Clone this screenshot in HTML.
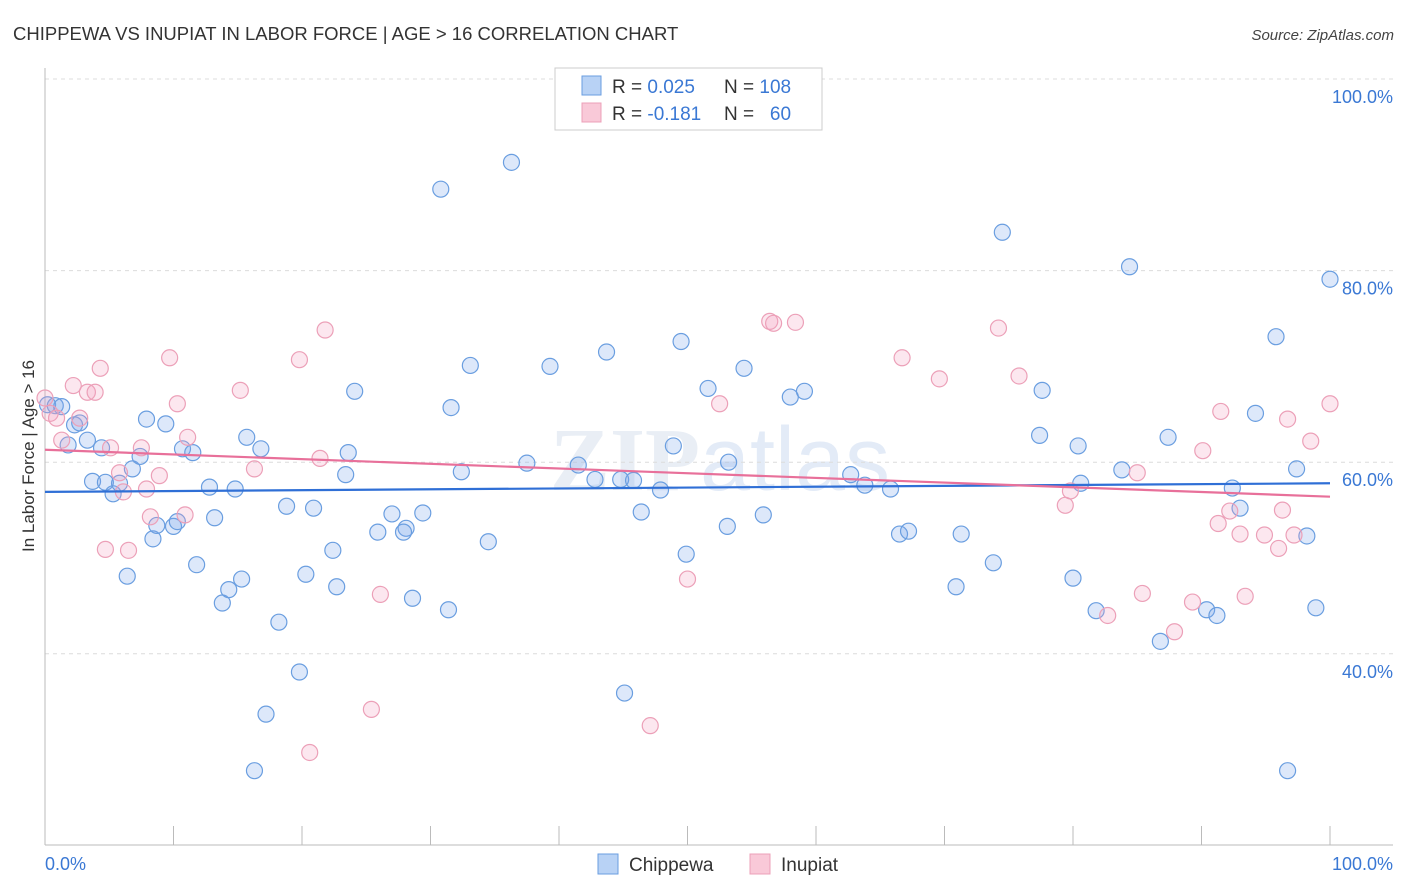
<!DOCTYPE html>
<html><head><meta charset="utf-8">
<style>
body{margin:0;background:#fff;font-family:"Liberation Sans",sans-serif;}
svg{display:block}
</style></head>
<body>
<svg id="chart" width="1406" height="892" xmlns="http://www.w3.org/2000/svg">
<text x="13" y="40" font-size="18.5" fill="#333" font-family="Liberation Sans, sans-serif">CHIPPEWA VS INUPIAT IN LABOR FORCE | AGE &gt; 16 CORRELATION CHART</text>
<text x="1394" y="40" font-size="15" fill="#444" text-anchor="end" font-style="italic">Source: ZipAtlas.com</text>
<text x="720" y="490" font-size="90" fill="#e9eef5" text-anchor="middle" font-weight="bold" font-family="Liberation Serif, serif">ZIP<tspan font-family="Liberation Sans, sans-serif" font-weight="normal" fill="#e3ebf7">atlas</tspan></text>
<g id="grid"></g>
<g id="axes"></g>
<g id="marks"></g>
<text transform="translate(34,456) rotate(-90)" font-size="17" fill="#333" text-anchor="middle">In Labor Force | Age &gt; 16</text>
<g>
<rect x="555" y="68" width="267" height="62" fill="#fff" stroke="#ccc"/>
<rect x="582" y="76" width="19" height="19" fill="#b8d2f5" stroke="#6a9ee0"/>
<rect x="582" y="103" width="19" height="19" fill="#f9c9d8" stroke="#eca0b8"/>
<text x="612" y="93" font-size="19" fill="#333">R = <tspan fill="#3a78d4">0.025</tspan></text>
<text x="724" y="93" font-size="19" fill="#333">N = <tspan fill="#3a78d4">108</tspan></text>
<text x="612" y="120" font-size="19" fill="#333">R = <tspan fill="#3a78d4">-0.181</tspan></text>
<text x="724" y="120" font-size="19" fill="#333">N = <tspan fill="#3a78d4">&#160;&#160;60</tspan></text>
</g>
<g>
<rect x="598" y="854" width="20" height="20" fill="#b8d2f5" stroke="#6a9ee0"/>
<text x="629" y="871" font-size="19" fill="#333">Chippewa</text>
<rect x="750" y="854" width="20" height="20" fill="#f9c9d8" stroke="#eca0b8"/>
<text x="781" y="871" font-size="19" fill="#333">Inupiat</text>
</g>
</svg>
<script>
const blueX=[0.2,0.8,1.3,1.8,2.3,2.7,3.3,3.7,4.4,4.7,5.3,5.8,6.4,6.8,7.4,7.9,8.4,8.7,9.4,10.0,10.3,10.7,11.5,11.8,12.8,13.2,13.8,14.3,14.8,15.3,15.7,16.3,16.8,17.2,18.2,18.8,19.8,20.3,20.9,22.4,22.7,23.4,23.6,24.1,25.9,27.0,28.1,27.9,28.6,29.4,30.8,31.4,31.6,32.4,33.1,34.5,36.3,37.5,39.3,41.5,42.8,43.7,44.8,45.1,45.8,46.4,47.9,48.9,49.5,49.9,51.6,53.1,53.2,54.4,55.9,58.0,59.1,62.7,63.8,65.8,66.5,67.2,70.9,71.3,73.8,74.5,77.4,77.6,80.0,80.4,80.6,81.8,83.8,84.4,86.8,87.4,90.4,91.2,92.4,93.0,94.2,95.8,96.7,97.4,98.2,98.9,100.0];
const blueY=[66.0,65.9,65.8,61.8,63.9,64.1,62.3,58.0,61.5,57.9,56.7,57.8,48.1,59.3,60.6,64.5,52.0,53.4,64.0,53.3,53.8,61.4,61.0,49.3,57.4,54.2,45.3,46.7,57.2,47.8,62.6,27.8,61.4,33.7,43.3,55.4,38.1,48.3,55.2,50.8,47.0,58.7,61.0,67.4,52.7,54.6,53.1,52.7,45.8,54.7,88.5,44.6,65.7,59.0,70.1,51.7,91.3,59.9,70.0,59.7,58.2,71.5,58.2,35.9,58.1,54.8,57.1,61.7,72.6,50.4,67.7,53.3,60.0,69.8,54.5,66.8,67.4,58.7,57.6,57.2,52.5,52.8,47.0,52.5,49.5,84.0,62.8,67.5,47.9,61.7,57.8,44.5,59.2,80.4,41.3,62.6,44.6,44.0,57.3,55.2,65.1,73.1,27.8,59.3,52.3,44.8,79.1];
const pinkX=[0,0.4,0.9,1.3,2.2,2.7,3.3,3.9,4.3,4.7,5.1,5.8,6.1,6.5,7.5,7.9,8.2,8.9,9.7,10.3,10.9,11.1,15.2,16.3,19.8,21.4,21.8,26.1,25.4,20.6,47.1,50.0,52.5,56.4,56.7,58.4,66.7,69.6,74.2,75.8,79.4,79.8,82.7,85.0,85.4,87.9,89.3,90.1,91.3,91.5,92.2,93.0,93.4,94.9,96.0,96.3,96.7,97.2,98.5,100];
const pinkY=[66.7,65.1,64.6,62.3,68.0,64.6,67.3,67.3,69.8,50.9,61.5,58.9,56.9,50.8,61.5,57.2,54.3,58.6,70.9,66.1,54.5,62.6,67.5,59.3,70.7,60.4,73.8,46.2,34.2,29.7,32.5,47.8,66.1,74.7,74.5,74.6,70.9,68.7,74.0,69.0,55.5,57.0,44.0,58.9,46.3,42.3,45.4,61.2,53.6,65.3,54.9,52.5,46.0,52.4,51.0,55.0,64.5,52.4,62.2,66.1];
const blueTrend=[56.9,57.8];
const pinkTrend=[61.3,56.4];
const yTicks=[100,80,60,40];
const xTicks=[0,10,20,30,40,50,60,70,80,90,100];
const NS='http://www.w3.org/2000/svg';
const X=v=>45+v*12.85;
const Y=v=>79+(100-v)*9.58;
function mk(tag,parent,attrs){const e=document.createElementNS(NS,tag);for(const k in attrs)e.setAttribute(k,attrs[k]);parent.appendChild(e);return e;}
const grid=document.getElementById('grid'),axes=document.getElementById('axes'),marks=document.getElementById('marks');
yTicks.forEach(t=>{
 const l=mk('line',grid,{x1:45,x2:1393,y1:Y(t),y2:Y(t),stroke:'#dcdcdc','stroke-dasharray':'4,4'});
 
 
 const tx=mk('text',axes,{x:1393,y:Y(t)+24,'font-size':18,fill:'#3a78d4','text-anchor':'end'});
 tx.textContent=t.toFixed(1)+'%';
 
 
});
const la=mk('line',axes,{x1:45,x2:45,y1:68,y2:845,stroke:'#bbb'});


const ba=mk('line',axes,{x1:45,x2:1393,y1:845,y2:845,stroke:'#bbb'});


xTicks.forEach(t=>{
 const l=mk('line',axes,{x1:X(t),x2:X(t),y1:826,y2:845,stroke:'#bbb'});
 
 
});
[[0,'start','0.0%'],[100,'end','100.0%']].forEach(a=>{
 const tx=mk('text',axes,{x:a[0]===0?45:1393,y:870,'font-size':18,fill:'#3a78d4','text-anchor':a[1]});
 tx.textContent=a[2];
 
 
});
blueX.forEach((v,i)=>{
 const c=mk('circle',marks,{cx:X(v),cy:Y(blueY[i]),r:8,fill:'rgba(120,165,235,0.25)',stroke:'#6a9ee0','stroke-width':1.2});
 
 
});
pinkX.forEach((v,i)=>{
 const c=mk('circle',marks,{cx:X(v),cy:Y(pinkY[i]),r:8,fill:'rgba(245,160,190,0.25)',stroke:'#eca0b8','stroke-width':1.2});
 
 
});
const bt=mk('line',marks,{x1:X(0),x2:X(100),y1:Y(blueTrend[0]),y2:Y(blueTrend[1]),stroke:'#2f6fd6','stroke-width':2.2});


const pt=mk('line',marks,{x1:X(0),x2:X(100),y1:Y(pinkTrend[0]),y2:Y(pinkTrend[1]),stroke:'#e8709a','stroke-width':2.2});


</script>
</body></html>
